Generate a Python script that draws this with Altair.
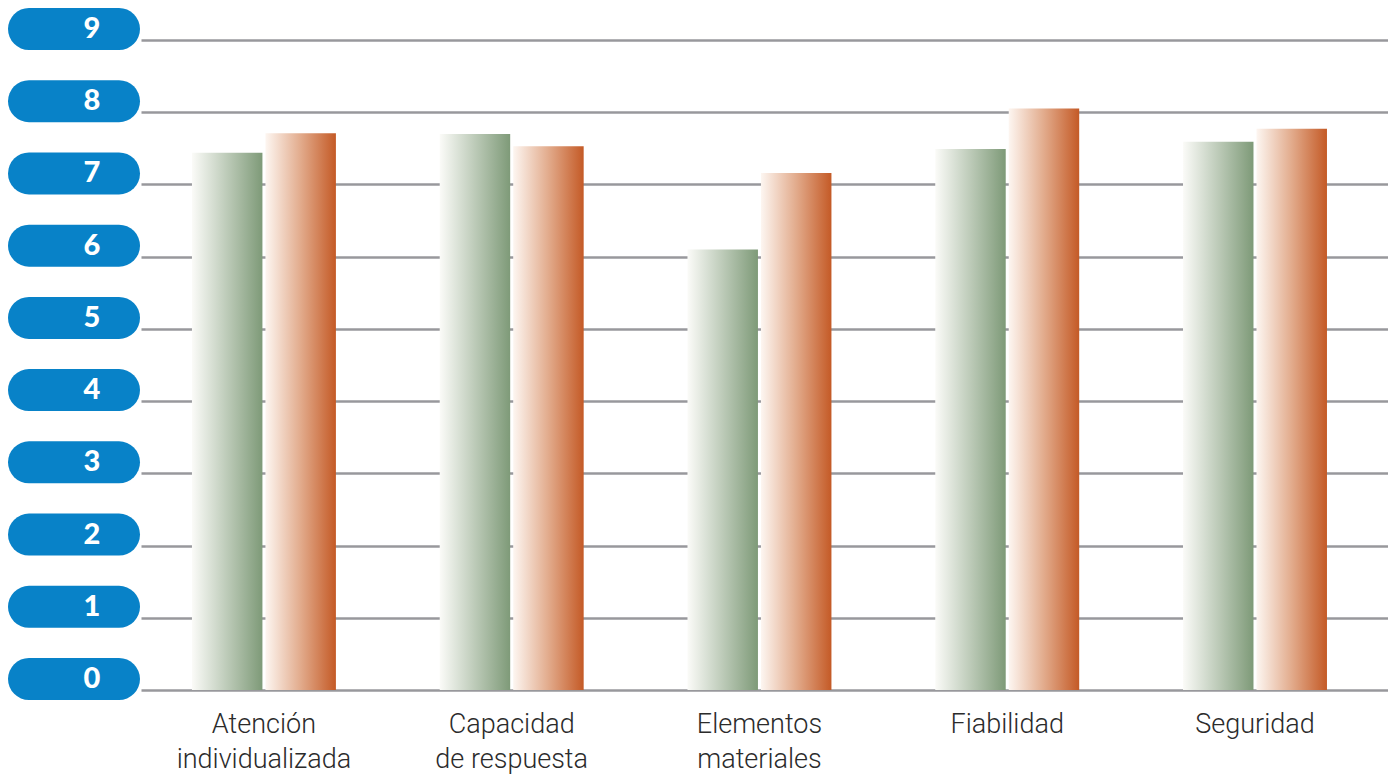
import altair as alt
import pandas as pd

# ---- data ----
categorias = ["Atención individualizada", "Capacidad de respuesta",
              "Elementos materiales", "Fiabilidad", "Seguridad"]
serie_verde = [7.44, 7.70, 6.10, 7.49, 7.59]
serie_naranja = [7.71, 7.53, 7.16, 8.05, 7.77]
series = ["Serie verde", "Serie naranja"]
ticks_y = [0, 1, 2, 3, 4, 5, 6, 7, 8, 9]

df = pd.DataFrame({
    "categoria": categorias * 2,
    "serie": [series[0]] * len(categorias) + [series[1]] * len(categorias),
    "valor": serie_verde + serie_naranja,
})
df_ticks = pd.DataFrame({"v": ticks_y})

H = 650
yscale = alt.Scale(domain=[0, 9], nice=False, zero=True)

grad_verde = alt.LinearGradient(
    gradient="linear", x1=0, x2=1, y1=0, y2=0,
    stops=[alt.GradientStop(offset=0, color="#fbfbf8"),
           alt.GradientStop(offset=1, color="#7e9a78")])
grad_naranja = alt.LinearGradient(
    gradient="linear", x1=0, x2=1, y1=0, y2=0,
    stops=[alt.GradientStop(offset=0, color="#fdf6f1"),
           alt.GradientStop(offset=0.5, color="#e2ab8c"),
           alt.GradientStop(offset=1, color="#c45a26")])

label_expr = ("indexof(datum.label, ' ') > 0 ? "
              "[substring(datum.label, 0, indexof(datum.label, ' ')), "
              "substring(datum.label, indexof(datum.label, ' ') + 1)] : datum.label")

x_enc = alt.X("categoria:N", sort=categorias,
              scale=alt.Scale(paddingInner=0.419, paddingOuter=0.226, align=0.455),
              axis=alt.Axis(title=None, labelAngle=0, ticks=False, domain=False,
                            labelFontSize=27, labelFont="Roboto", labelFontWeight=300,
                            labelColor="#2b2b2b", labelPadding=21,
                            labelLineHeight=35, labelLimit=0,
                            labelExpr=label_expr))
xoff_enc = alt.XOffset("serie:N",
                       scale=alt.Scale(domain=series, paddingInner=0.041, paddingOuter=0))
y_enc = alt.Y("valor:Q", scale=yscale,
              axis=alt.Axis(title=None, labels=False, ticks=False, domain=False,
                            grid=True, gridColor="#98989c", gridWidth=2.5,
                            values=ticks_y))

base = alt.Chart(df)
bars_v = base.transform_filter(alt.datum.serie == series[0]).mark_bar(
    fill=grad_verde).encode(x=x_enc, xOffset=xoff_enc, y=y_enc)
bars_n = base.transform_filter(alt.datum.serie == series[1]).mark_bar(
    fill=grad_naranja).encode(x=x_enc, xOffset=xoff_enc, y=y_enc)

right = (bars_v + bars_n).properties(width=1247, height=H)

y_pill = alt.Y("v:Q", scale=yscale, axis=None)
pills = alt.Chart(df_ticks).mark_rule(
    strokeWidth=42, strokeCap="round", color="#0882c8", yOffset=-11
).encode(x=alt.value(21), x2=alt.value(111), y=y_pill)
digits = alt.Chart(df_ticks).mark_text(
    color="white", font="Lato", fontWeight=900, fontSize=29,
    yOffset=-11, baseline="middle", align="center"
).encode(x=alt.value(84), y=y_pill, text="v:Q")
left = (pills + digits).properties(width=133, height=H)

chart = alt.hconcat(left, right, spacing=0).configure_view(stroke=None).properties(
    padding={"left": 0, "top": 0, "right": 0, "bottom": 12})

chart.save("out.html", embed_options={"renderer": "svg", "actions": False})
